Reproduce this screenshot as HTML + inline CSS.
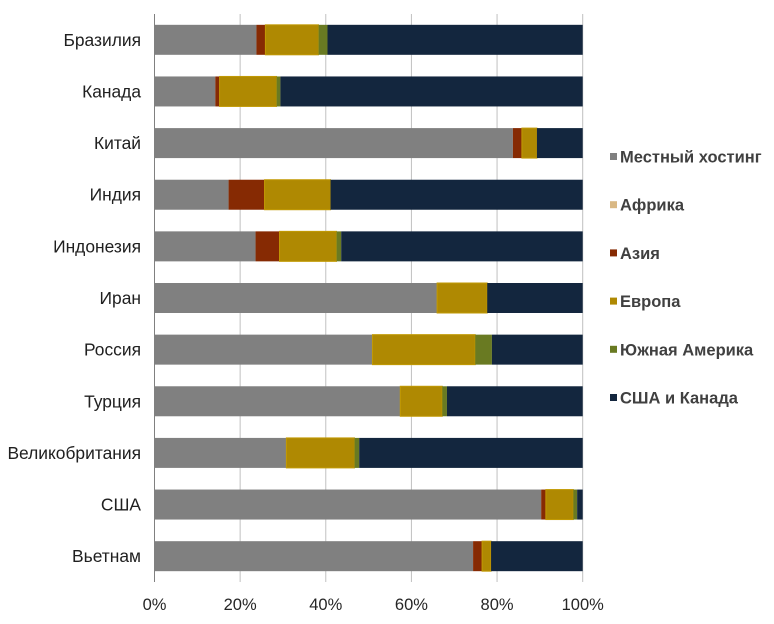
<!DOCTYPE html>
<html><head><meta charset="utf-8"><style>
body{margin:0;background:#fff;}
svg{display:block;font-family:"Liberation Sans",sans-serif;}
</style></head><body>
<svg id="c" width="774" height="624"></svg>
<script>
const categories=["Бразилия","Канада","Китай","Индия","Индонезия","Иран","Россия","Турция","Великобритания","США","Вьетнам"];
const seriesNames=["Местный хостинг","Африка","Азия","Европа","Южная Америка","США и Канада"];
const seriesColors=["#808080","#d9b884","#862a03","#af8902","#697a22","#13263e"];
const local=[23.8,14.2,83.7,17.3,23.6,66.0,50.9,57.4,30.8,90.3,74.4];
const africa=[0,0,0,0,0,0,0,0,0,0,0];
const asia=[2.1,1.0,2.1,8.4,5.6,0,0,0,0,1.1,2.1];
const europe=[12.4,13.3,3.5,15.4,13.3,11.7,24.0,9.8,15.9,6.4,2.1];
const southAmerica=[2.1,0.9,0,0,1.1,0,3.9,1.1,1.1,0.9,0];
const usCanada=[59.6,70.6,10.7,58.9,56.4,22.3,21.2,31.7,52.2,1.3,21.4];
const xTicks=[0,20,40,60,80,100];
const series=[local,africa,asia,europe,southAmerica,usCanada];
const NS="http://www.w3.org/2000/svg";
const svg=document.getElementById("c");
const X0=154.5,X1=582.7,Y0=14,Y1=582;
const x=v=>X0+(X1-X0)*v/100;
const band=(Y1-Y0)/categories.length;
const yc=i=>Y0+band*(i+0.5);
function mk(t,a){const e=document.createElementNS(NS,t);for(const k in a)e.setAttribute(k,a[k]);svg.appendChild(e);return e;}
xTicks.forEach(t=>{
  if(t>0){const g=mk("line",{x1:x(t),x2:x(t),y1:Y0,y2:Y1,stroke:"#c0c0c0","stroke-width":1});
  
  }
  const l=mk("text",{x:x(t),y:610,"text-anchor":"middle","font-size":16.5,fill:"#262626"});
  l.textContent=t+"%";
  
  
});
categories.forEach((c,i)=>{
  let acc=0;
  series.forEach((s,j)=>{
    const v=s[i];
    if(v>0){
      const r=mk("rect",{x:x(acc),y:yc(i)-15,width:x(acc+v)-x(acc),height:30,fill:seriesColors[j]});
      if(j===3)r.setAttribute("stroke","#c29a05"),r.setAttribute("stroke-width","1");
      
      
    }
    acc+=v;
  });
  const t=mk("text",{x:141,y:yc(i)+6,"text-anchor":"end","font-size":17.4,fill:"#202020"});
  t.textContent=c;
  
  
});
const ax=mk("line",{x1:X0,x2:X0,y1:Y0,y2:Y1,stroke:"#808080","stroke-width":1});


seriesNames.forEach((n,j)=>{
  const y=157+j*48.2;
  const m=mk("rect",{x:610,y:y-4,width:7,height:7,fill:seriesColors[j]});
  
  
  const t=mk("text",{x:620,y:y+5.5,"font-size":16.5,"font-weight":"bold",fill:"#404040"});
  t.textContent=n;
  
  
});
</script>
</body></html>
